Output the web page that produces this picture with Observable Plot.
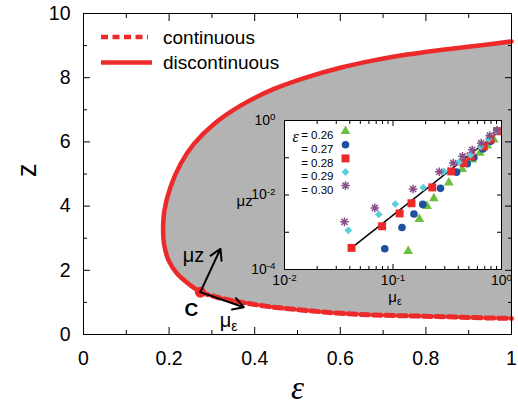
<!DOCTYPE html>
<html><head><meta charset="utf-8">
<script src="https://cdn.jsdelivr.net/npm/d3@7"></script>
<script src="https://cdn.jsdelivr.net/npm/@observablehq/plot@0.6"></script>
<style>
body{margin:0;background:#fff;}
#wrap{position:relative;width:518px;height:405px;font-family:"Liberation Sans",Arial,sans-serif;}
#wrap > *{position:absolute;}
</style></head><body><div id="wrap"></div>
<script>
// ---------- main phase diagram data ----------
const solidEps = [0.273,0.250,0.219,0.199,0.188,0.186,0.189,0.203,0.227,0.258,0.305,0.367,0.445,0.523,0.600,0.678,0.756,0.826,0.904,1.000];
const solidZ   = [1.32, 1.53, 1.89, 2.30, 2.83, 3.24, 3.86, 4.59, 5.32, 5.94, 6.56, 7.13, 7.65, 8.02, 8.31, 8.54, 8.72, 8.85, 8.97, 9.13];
const dashedEps = [0.273,0.312,0.370,0.445,0.520,0.600,0.700,0.826,0.900,1.000];
const dashedZ   = [1.32, 1.16, 1.00, 0.85, 0.75, 0.66, 0.60, 0.56, 0.53, 0.50];
const critEps = [0.273];
const critZ = [1.32];
const arrowTipEps = [0.320, 0.3745];
const arrowTipZ = [2.67, 0.85];
const annotText = ["μz", "με", "C"];
const annotEps = [0.257, 0.339, 0.252];
const annotZ = [2.46, 0.43, 0.78];
const xTicksMain = [0, 0.2, 0.4, 0.6, 0.8, 1];
const xMinorMain = [0.1, 0.3, 0.5, 0.7, 0.9];
const yTicksMain = [0, 2, 4, 6, 8, 10];
const yMinorMain = [1, 3, 5, 7, 9];
const legendLabels = ["continuous", "discontinuous"];

// ---------- inset data ----------
const seriesNames = ["0.26", "0.27", "0.28", "0.29", "0.30"];
const muEps026 = [0.138,0.175,0.206,0.238,0.327,0.434,0.537,0.630,0.738,0.850];
const muZ026   = [3.1e-4,2.24e-3,5.0e-3,8.1e-3,0.0215,0.049,0.088,0.134,0.211,0.306];
const muEps027 = [0.084,0.121,0.156,0.188,0.274,0.385,0.483,0.556,0.673,0.794];
const muZ027   = [3.6e-4,1.34e-3,3.1e-3,5.6e-3,0.0151,0.041,0.069,0.102,0.171,0.276];
const muEps028 = [0.0415,0.0794,0.115,0.148,0.230,0.344,0.450,0.520,0.687,0.790,0.910];
const muZ028   = [3.8e-4,1.45e-3,3.2e-3,6.0e-3,0.016,0.043,0.072,0.109,0.202,0.310,0.515];
const muEps029 = [0.0387,0.074,0.105,0.190,0.295,0.405,0.518,0.640,0.763,0.900];
const muZ029   = [1.13e-3,3.0e-3,5.7e-3,0.0158,0.043,0.075,0.120,0.202,0.320,0.515];
const muEps030 = [0.0357,0.068,0.153,0.267,0.359,0.437,0.537,0.650,0.780,0.910];
const muZ030   = [1.9e-3,4.5e-3,0.0145,0.042,0.072,0.109,0.164,0.249,0.393,0.548];
const fitEps = [0.0415, 0.92];
const fitMuZ = [3.8e-4, 0.47];
const insetXTicks = [0.01, 0.1, 1];
const insetXMinor = [0.02,0.03,0.04,0.05,0.06,0.07,0.08,0.09,0.2,0.3,0.4,0.5,0.6,0.7,0.8,0.9];
const insetYTicks = [1e-4, 1e-3, 1e-2, 1e-1, 1];
const insetYLabels = [1e-4, 1e-2, 1];

// ---------- styles ----------
const RED = "#ec2a2a";
const GRAY = "#b3b3b3";
const FONT = "Liberation Sans, Arial, sans-serif";
const SERIF = "Liberation Serif, DejaVu Serif, serif";
const asterisk = {
  draw(ctx, size) {
    const r = Math.sqrt(size / Math.PI);
    const d = r * Math.SQRT1_2;
    ctx.moveTo(-r, 0); ctx.lineTo(r, 0);
    ctx.moveTo(0, -r); ctx.lineTo(0, r);
    ctx.moveTo(-d, -d); ctx.lineTo(d, d);
    ctx.moveTo(-d, d); ctx.lineTo(d, -d);
  }
};
const seriesStyle = [
  {symbol: "triangle", fill: "#6cbf3f", r: 3.6},
  {symbol: "circle", fill: "#1e4fa0", r: 3.8},
  {symbol: "square", fill: RED, r: 4.5},
  {symbol: "diamond2", fill: "#5ccfdc", r: 3.5},
  {symbol: asterisk, fill: "none", stroke: "#88508a", r: 4.3, strokeWidth: 1.5}
];
const seriesEps = [muEps026, muEps027, muEps028, muEps029, muEps030];
const seriesMu = [muZ026, muZ027, muZ028, muZ029, muZ030];

// ---------- build rows ----------
const solidRows = solidEps.map((e, i) => ({eps: e, z: solidZ[i]}));
const dashedRows = dashedEps.map((e, i) => ({eps: e, z: dashedZ[i]}));
const regionRows = [...dashedRows].reverse().concat(solidRows.slice(1));
const critRows = critEps.map((e, i) => ({eps: e, z: critZ[i]}));
const arrowRows = arrowTipEps.map((e, i) => ({x1: critEps[0], y1: critZ[0], x2: e, y2: arrowTipZ[i]}));
const annotRows = annotText.map((t, i) => ({t, eps: annotEps[i], z: annotZ[i]}));

const wrap = document.getElementById("wrap");
const noText = () => "";

const main = Plot.plot({
  width: 518, height: 405,
  marginLeft: 83, marginRight: 7, marginTop: 13, marginBottom: 71,
  style: {fontFamily: FONT, background: "transparent", color: "black"},
  x: {domain: [0, 1]},
  y: {domain: [0, 10]},
  marks: [
    Plot.areaX(regionRows, {y: "z", x1: "eps", x2: 1, fill: GRAY, curve: "catmull-rom"}),
    Plot.line(dashedRows, {x: "eps", y: "z", stroke: RED, strokeWidth: 5, strokeDasharray: "8,4.5", curve: "catmull-rom"}),
    Plot.line(solidRows, {x: "eps", y: "z", stroke: RED, strokeWidth: 4.5, curve: "catmull-rom", strokeLinejoin: "round"}),
    Plot.dot(critRows, {x: "eps", y: "z", r: 5.5, fill: RED}),
    Plot.arrow(arrowRows, {x1: "x1", y1: "y1", x2: "x2", y2: "y2", stroke: "black", strokeWidth: 2, headLength: 9}),
    Plot.text(annotRows.slice(0, 2), {x: "eps", y: "z", text: "t", fontSize: 20, fill: "black"}),
    Plot.text(annotRows.slice(2), {x: "eps", y: "z", text: "t", fontSize: 19, fontWeight: "bold", fill: "black"}),
    Plot.frame({stroke: "black", strokeWidth: 1}),
    Plot.axisX(xTicksMain, {label: null, tickSize: 0, tickPadding: 17, fontSize: 19.5, tickFormat: d => String(d)}),
    Plot.axisX(xTicksMain, {label: null, tickSize: -7, tickFormat: noText}),
    Plot.axisX(xMinorMain, {label: null, tickSize: -4, tickFormat: noText}),
    Plot.axisX(xTicksMain, {label: null, anchor: "top", tickSize: -7, tickFormat: noText}),
    Plot.axisX(xMinorMain, {label: null, anchor: "top", tickSize: -4, tickFormat: noText}),
    Plot.axisY(yTicksMain, {label: null, tickSize: 0, tickPadding: 13, fontSize: 19.5, tickFormat: d => String(d)}),
    Plot.axisY(yTicksMain, {label: null, tickSize: -7, tickFormat: noText}),
    Plot.axisY(yMinorMain, {label: null, tickSize: -4, tickFormat: noText}),
    Plot.axisY(yTicksMain, {label: null, anchor: "right", tickSize: -7, tickFormat: noText}),
    Plot.axisY(yMinorMain, {label: null, anchor: "right", tickSize: -4, tickFormat: noText}),
    Plot.text(["z"], {frameAnchor: "left", dx: -56, dy: 3, rotate: -90, fontSize: 27, fill: "black"}),
    Plot.text(["ε"], {frameAnchor: "bottom", dy: 64, fontSize: 33, fontStyle: "italic", fontFamily: SERIF, fill: "black"})
  ]
});
main.style.left = "0px"; main.style.top = "0px";
wrap.appendChild(main);

// ---------- inset ----------
const insetMarks = [
  Plot.frame({fill: "white", stroke: "none"}),
  Plot.line(fitEps.map((e, i) => ({e, m: fitMuZ[i]})), {x: "e", y: "m", stroke: "black", strokeWidth: 1.5})
];
seriesNames.forEach((name, k) => {
  const st = seriesStyle[k];
  const rows = seriesEps[k].map((e, i) => ({e, m: seriesMu[k][i]}));
  insetMarks.push(Plot.dot(rows, {x: "e", y: "m", symbol: st.symbol, fill: st.fill, stroke: st.stroke || "none", strokeWidth: st.strokeWidth || 1, r: st.r}));
  insetMarks.push(Plot.dot([name], {frameAnchor: "top-left", dx: 61, dy: 10.7 + k * 13.6, symbol: st.symbol, fill: st.fill, stroke: st.stroke || "none", strokeWidth: st.strokeWidth || 1, r: st.r}));
  insetMarks.push(Plot.text([name], {frameAnchor: "top-left", dx: 49, dy: 10.7 + k * 13.6, text: d => "= " + d, textAnchor: "end", fontSize: 11.5, fill: "black"}));
});
insetMarks.push(
  Plot.text(["ε"], {frameAnchor: "top-left", dx: 8, dy: 10, fontSize: 16, fontStyle: "italic", fontFamily: SERIF, fill: "black"}),
  Plot.frame({stroke: "black", strokeWidth: 1}),
  Plot.axisX(insetXTicks, {label: null, tickSize: 0, tickPadding: 6, fontSize: 14, tickFormat: d => "10^" + Math.round(Math.log10(d))}),
  Plot.axisX(insetXTicks, {label: null, tickSize: -5, tickFormat: noText}),
  Plot.axisX(insetXMinor, {label: null, tickSize: -3, tickFormat: noText}),
  Plot.axisX(insetXTicks, {label: null, anchor: "top", tickSize: -5, tickFormat: noText}),
  Plot.axisX(insetXMinor, {label: null, anchor: "top", tickSize: -3, tickFormat: noText}),
  Plot.axisY(insetYLabels, {label: null, tickSize: 0, tickPadding: 9, fontSize: 14, tickFormat: d => "10^" + Math.round(Math.log10(d))}),
  Plot.axisY(insetYTicks, {label: null, tickSize: -5, tickFormat: noText}),
  Plot.axisY(insetYTicks, {label: null, anchor: "right", tickSize: -5, tickFormat: noText}),
  Plot.text(["μz"], {frameAnchor: "left", dx: -48, dy: 6, fontSize: 15, fill: "black"}),
  Plot.text(["με"], {frameAnchor: "bottom", dx: 2, dy: 32, fontSize: 15, fill: "black"})
);
const inset = Plot.plot({
  width: 283, height: 193,
  marginLeft: 56, marginRight: 10, marginTop: 6, marginBottom: 38,
  style: {fontFamily: FONT, background: "transparent", color: "black", overflow: "visible"},
  x: {type: "log", domain: [0.01, 1]},
  y: {type: "log", domain: [1e-4, 1]},
  marks: insetMarks
});
inset.style.left = "228px"; inset.style.top = "114px";
wrap.appendChild(inset);

// ---------- main legend (inside plot, top-left) ----------
const leg = d3.create("svg").attr("width", 200).attr("height", 60)
  .style("left", "90px").style("top", "20px").style("overflow", "visible");
legendLabels.forEach((lab, i) => {
  const y = 17 + i * 25.5;
  leg.append("line").attr("x1", 11).attr("x2", i === 0 ? 58 : 62).attr("y1", y).attr("y2", y)
    .attr("stroke", RED).attr("stroke-width", 4.5)
    .attr("stroke-dasharray", i === 0 ? "7,4.5" : null);
  leg.append("text").attr("x", 73).attr("y", y).attr("dominant-baseline", "central")
    .attr("font-family", FONT).attr("font-size", 19).attr("fill", "black").text(lab);
});
wrap.appendChild(leg.node());

// ---------- rich text: superscripts & subscripts ----------
function richify(svg) {
  d3.select(svg).selectAll("text").each(function() {
    const el = d3.select(this);
    const targets = el.selectAll("tspan").size() ? el.selectAll("tspan") : el;
    targets.each(function() {
      const t = d3.select(this);
      const s = t.text();
      const m = s.match(/^10\^(-?\d+)$/);
      if (m) {
        t.text("10");
        t.append("tspan").attr("dy", "-0.5em").attr("font-size", "0.7em").text(m[1]);
        return;
      }
      if (s === "με") {
        t.text("μ");
        t.append("tspan").attr("dy", "0.3em").attr("font-size", "0.7em").text("ε");
      }
    });
  });
}
richify(main);
richify(inset);
</script></body></html>
